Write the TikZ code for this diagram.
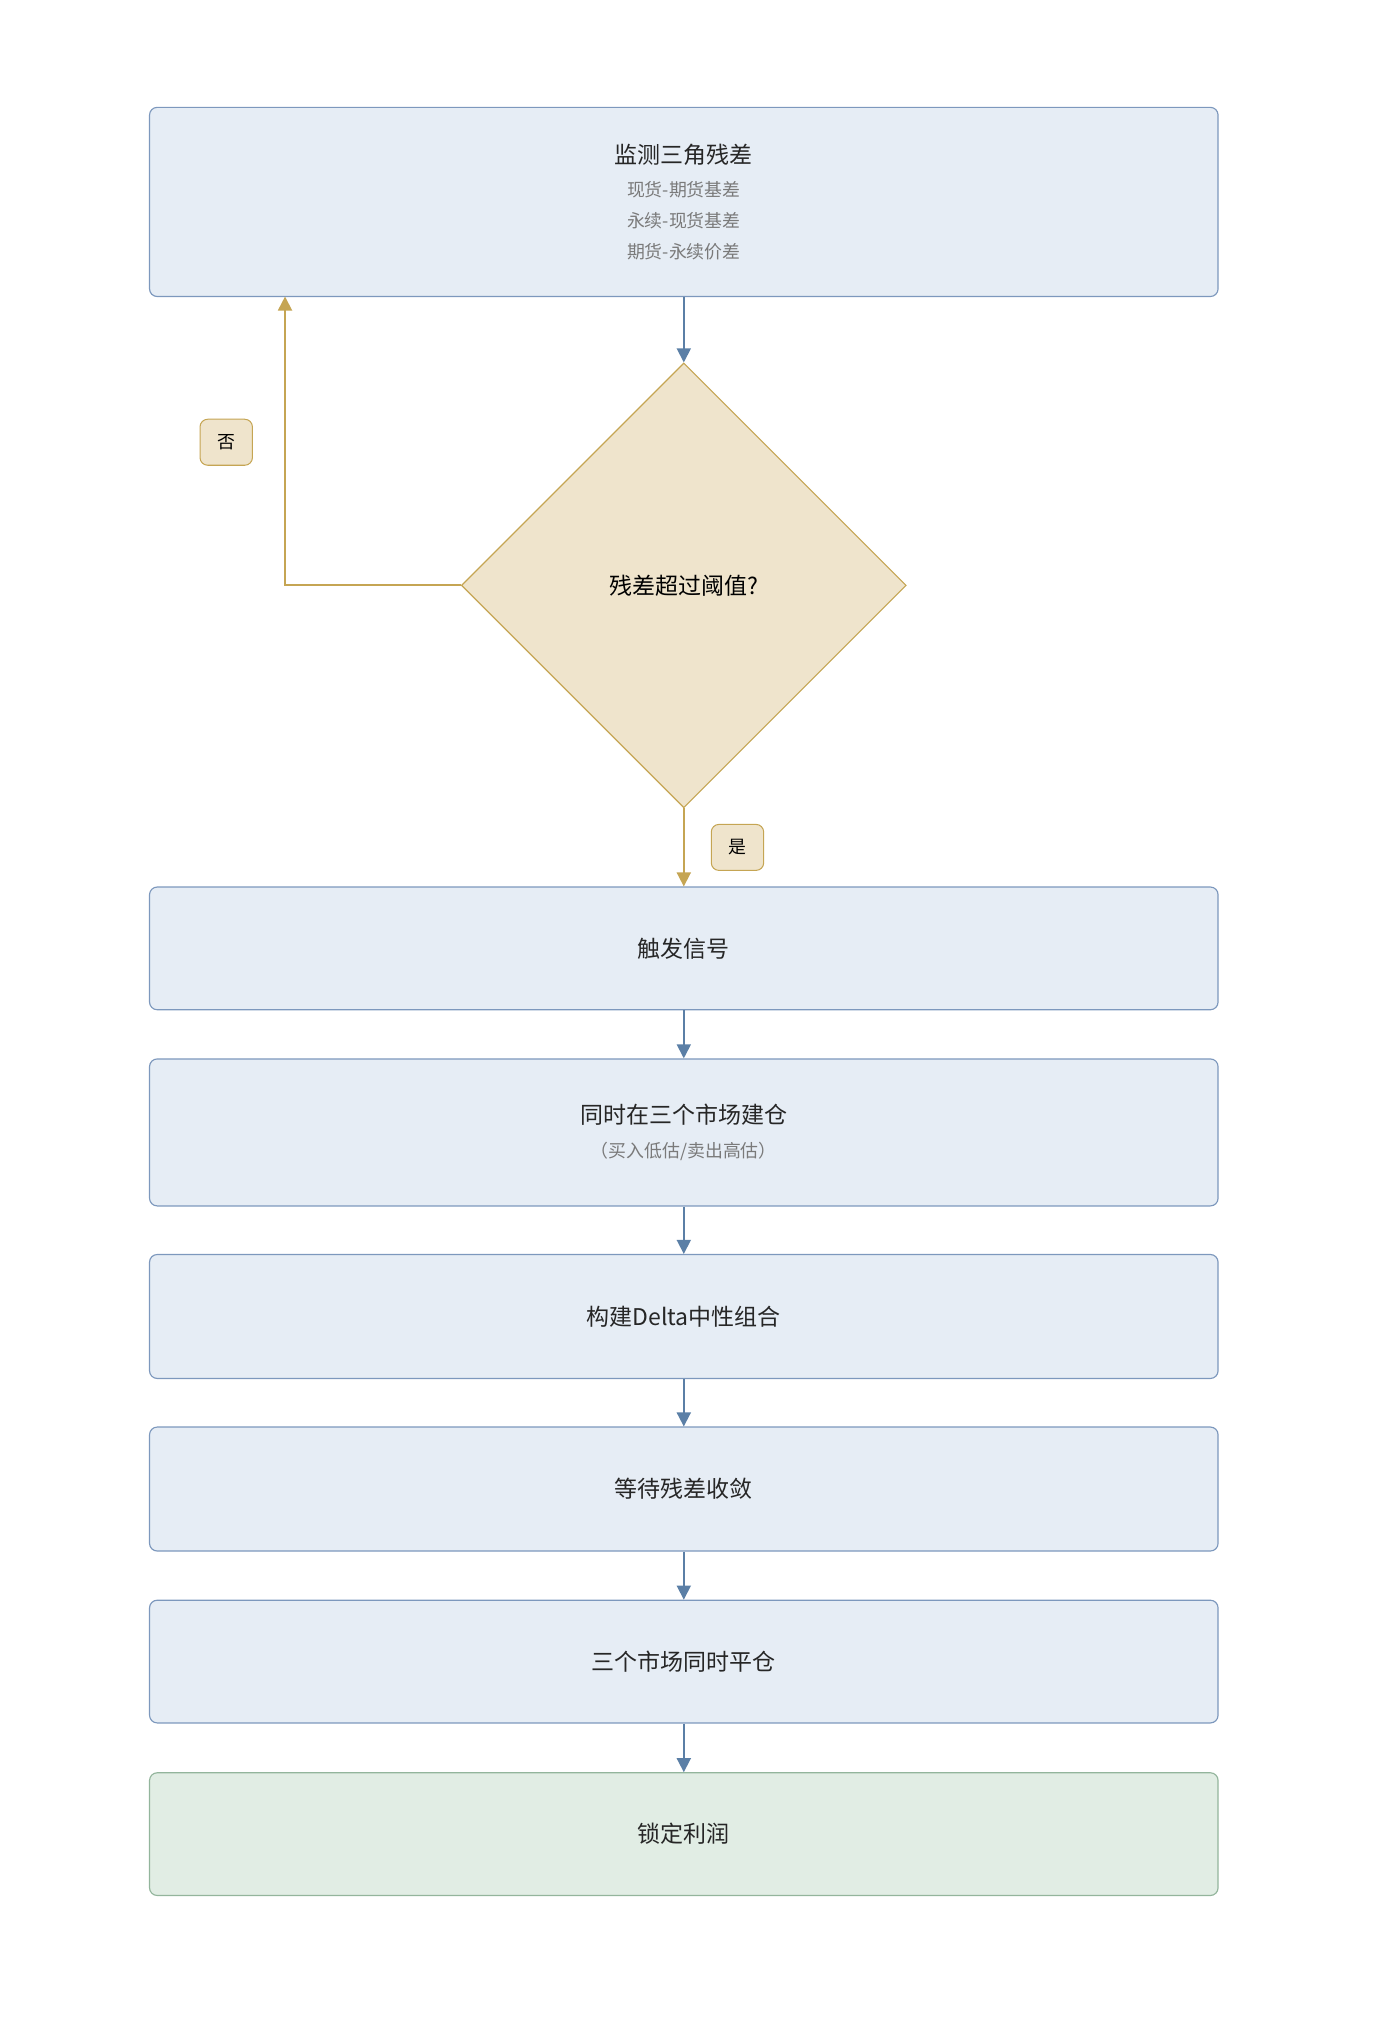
\documentclass[tikz,border=0pt]{standalone}
\usepackage{fontspec}
\setmainfont{Noto Sans CJK SC}
\usetikzlibrary{shapes.geometric,arrows.meta}
\definecolor{boxfill}{HTML}{E6EDF5}
\definecolor{boxline}{HTML}{7D98BD}
\definecolor{decfill}{HTML}{EFE4CC}
\definecolor{decline}{HTML}{C5A553}
\definecolor{endfill}{HTML}{E1EDE4}
\definecolor{endline}{HTML}{93B59C}
\definecolor{arrowblue}{HTML}{5B7FA6}
\definecolor{subgray}{HTML}{7A7A7A}
\tikzset{%
    stage/.style={draw=boxline, fill=boxfill, rounded corners=6pt, line width=0.9pt,
        minimum width=836pt, align=center, font=\fontsize{18}{24}\selectfont, text=black!85},
    decision/.style={diamond, draw=decline, fill=decfill, line width=0.9pt,
        minimum width=348pt, minimum height=348pt, font=\fontsize{18}{24}\selectfont, inner sep=0pt},
    tag/.style={draw=decline, fill=decfill, rounded corners=6pt, line width=0.8pt,
        minimum width=41pt, minimum height=36pt, font=\fontsize{14}{16}\selectfont},
    flow/.style={-{Triangle[length=11pt,width=11pt]}, line width=1.4pt, draw=arrowblue},
    loop/.style={-{Triangle[length=11pt,width=11pt]}, line width=1.4pt, draw=decline}
}
\newcommand{\subline}[1]{{\fontsize{14}{23}\selectfont\color{subgray}#1}}
\begin{document}
\begin{tikzpicture}[x=1pt,y=-1pt]
    \useasboundingbox (0,0) rectangle (1080,1582);
%-----------------------------------------------
    \node[stage, minimum height=148pt] (monitor) at (535,158)
        {监测三角残差\\[2pt]\subline{现货-期货基差}\\\subline{永续-现货基差}\\\subline{期货-永续价差}};
    \node[decision] (check) at (535,458) {残差超过阈值?};
    \node[stage, minimum height=96pt] (signal) at (535,742) {触发信号};
    \node[stage, minimum height=115pt] (open) at (535,886) {同时在三个市场建仓\\[2pt]\subline{（买入低估/卖出高估）}};
    \node[stage, minimum height=97pt] (hedge) at (535,1030) {构建Delta中性组合};
    \node[stage, minimum height=97pt] (wait) at (535,1165) {等待残差收敛};
    \node[stage, minimum height=96pt] (close) at (535,1300) {三个市场同时平仓};
    \node[stage, minimum height=96pt, draw=endline, fill=endfill] (profit) at (535,1435) {锁定利润};
%-----------------------------------------------
    \coordinate (back) at (223,458);
    \coordinate (backend) at (223,232);
    \draw[flow] (monitor) -- (check);
    \draw[loop] (check.west) -- (back) -- (backend);
    \draw[loop] (check.south) -- (signal.north);
    \draw[flow] (signal) -- (open);
    \draw[flow] (open) -- (hedge);
    \draw[flow] (hedge) -- (wait);
    \draw[flow] (wait) -- (close);
    \draw[flow] (close) -- (profit);
%-----------------------------------------------
    \node[tag] (no) at (177,346) {否};
    \node[tag] (yes) at (577,663) {是};
\end{tikzpicture}
\end{document}
